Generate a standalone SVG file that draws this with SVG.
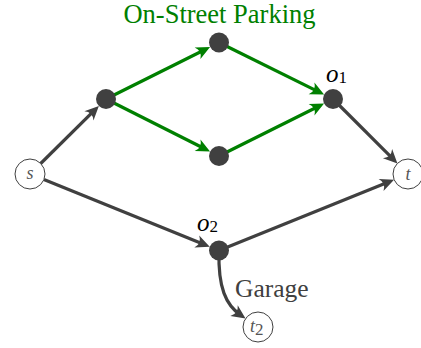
<svg xmlns="http://www.w3.org/2000/svg" width="421" height="348" viewBox="0 0 421 348">
<defs>
<style>
.e{fill:none;stroke:#404040;stroke-width:3.2}
.g{fill:none;stroke:#008000;stroke-width:3.2}
.dot{fill:#404040}
.term{fill:#fff;stroke:#404040;stroke-width:1}
.lab{font-family:"Liberation Serif",serif;font-style:italic;fill:#555;font-size:18px}
.math{font-family:"Liberation Serif",serif;font-style:italic;fill:#000;font-size:25px}
.sub{font-style:normal;font-size:17px}
.txt{font-family:"Liberation Serif",serif}
</style>
<marker id="ad" markerUnits="userSpaceOnUse" markerWidth="20" markerHeight="20" viewBox="-10 -10 20 20" refX="0" refY="0" orient="auto">
<path d="M6,0 L-8,-6.5 Q-2.5,0 -8,6.5 Z" fill="#404040"/>
</marker>
<marker id="ag" markerUnits="userSpaceOnUse" markerWidth="20" markerHeight="20" viewBox="-10 -10 20 20" refX="0" refY="0" orient="auto">
<path d="M6,0 L-8,-6.5 Q-2.5,0 -8,6.5 Z" fill="#008000"/>
</marker>
</defs>
<text class="txt" x="219.5" y="23" font-size="26.5" fill="#008000" text-anchor="middle">On-Street Parking</text>
<g id="connectors">
<path class="e" d="M40.7,163.5 L94.6,110.2" marker-end="url(#ad)"/>
<path class="g" d="M106,99 L204.7,49.7" marker-end="url(#ag)"/>
<path class="g" d="M106,99 L204.7,148.8" marker-end="url(#ag)"/>
<path class="g" d="M219,42.5 L318.7,91.9" marker-end="url(#ag)"/>
<path class="g" d="M219,156 L318.7,106.2" marker-end="url(#ag)"/>
<path class="e" d="M333,99 L393.2,159.2" marker-end="url(#ad)"/>
<path class="e" d="M43.9,179.6 L204.2,244.5" marker-end="url(#ad)"/>
<path class="e" d="M219,250.5 L388.5,181.9" marker-end="url(#ad)"/>
<path class="e" d="M219,251 C218,288 226,305 240.6,315.1" marker-end="url(#ad)"/>
</g>
<text class="txt" x="235" y="297" font-size="25.5" fill="#404040">Garage</text>
<g id="s"><circle class="term" cx="30" cy="174" r="15"/><text class="lab" x="30" y="179" text-anchor="middle">s</text></g>
<g id="t"><circle class="term" cx="408" cy="174" r="15"/><text class="lab" x="408" y="180" text-anchor="middle">t</text></g>
<g id="t2"><circle class="term" cx="258" cy="327" r="15"/><text class="lab" x="250" y="332">t<tspan class="sub" font-size="13" dy="3">2</tspan></text></g>
<g id="a"><circle class="dot" cx="106" cy="99" r="10"/></g>
<g id="top"><circle class="dot" cx="219" cy="42.5" r="10"/></g>
<g id="bottom"><circle class="dot" cx="219" cy="156" r="10"/></g>
<g id="o1"><circle class="dot" cx="333" cy="99" r="10"/><text class="math" x="326" y="82">o<tspan class="sub" dy="1">1</tspan></text></g>
<g id="o2"><circle class="dot" cx="219" cy="250.5" r="10"/><text class="math" x="197" y="231">o<tspan class="sub" dy="1">2</tspan></text></g>
</svg>
